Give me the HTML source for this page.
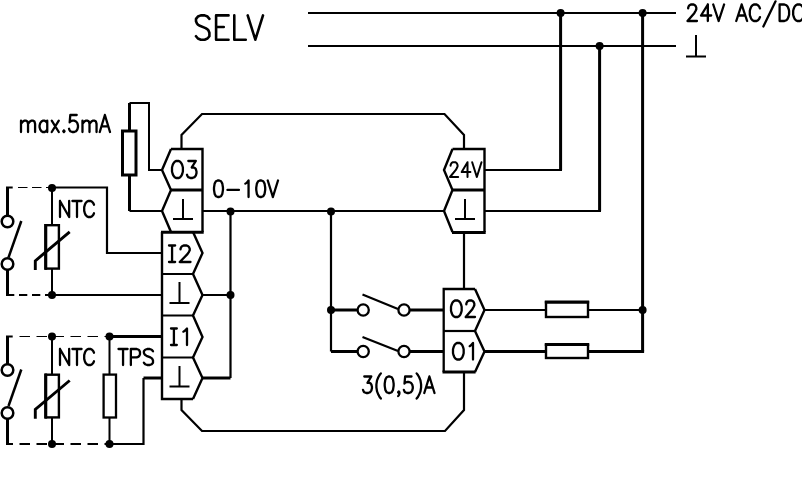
<!DOCTYPE html>
<html><head><meta charset="utf-8"><title>SELV wiring diagram</title>
<style>
html,body{margin:0;padding:0;background:#fff;font-family:"Liberation Sans",sans-serif;}
svg{display:block}
</style></head>
<body>
<svg width="802" height="501" viewBox="0 0 802 501">
<rect x="0" y="0" width="802" height="501" fill="#fff"/>
<g fill="none" stroke="#000" stroke-linecap="butt" stroke-linejoin="miter">
<path d="M308 13H676 M308 46H676" stroke-width="2"/>
<path d="M560.6 13V170 M599.6 46V211 M642.6 13V351.5" stroke-width="3"/>
<path d="M484.5 170H562 M484.5 211H601" stroke-width="2"/>
<circle cx="560.6" cy="13" r="4.0" fill="#000" stroke="none"/>
<circle cx="599.6" cy="46" r="4.0" fill="#000" stroke="none"/>
<circle cx="642.6" cy="13" r="4.0" fill="#000" stroke="none"/>
<circle cx="642.6" cy="310" r="4.0" fill="#000" stroke="none"/>
<path d="M181.5 149V135L202 114H444.5L464 135V149" stroke-width="2.2"/>
<path d="M181.5 399V410L202 431H445L464 410V372" stroke-width="2.2"/>
<path d="M171 149H202.5V232 M171 149L162 170L171 190L162 211L171 232" stroke-width="2.4"/>
<path d="M171 190H202.5" stroke-width="3"/>
<path d="M161 232.3H203.7" stroke-width="3"/>
<path d="M162 232V399H193" stroke-width="2.4"/>
<path d="M193 232L202.5 253L193 274L202.5 295L193 315.5L202.5 337L193 357.5L202.5 378L193 399" stroke-width="2.4"/>
<path d="M162 274H193 M162 315.5H193 M162 357.5H193" stroke-width="2.2"/>
<path d="M452.5 149H484.5V232 M452.5 149L444 170L452.5 190L444 211L452.5 232" stroke-width="2.4"/>
<path d="M452.5 190H484.5" stroke-width="3"/>
<path d="M452 232.4H485.7" stroke-width="3"/>
<path d="M464 232V289" stroke-width="2.2"/>
<path d="M475 289H443.7V372" stroke-width="2.3"/>
<path d="M442.5 372H475.6" stroke-width="3"/>
<path d="M475 289L484.5 310L475 331L484.5 351.5L475 372" stroke-width="2.4"/>
<path d="M443.5 331H475" stroke-width="2.2"/>
<path d="M129.5 103V131 M129.5 175V211" stroke-width="3"/>
<path d="M129.5 103H149V170H162 M129.5 211H162" stroke-width="2"/>
<rect x="122.5" y="131" width="13.5" height="44" fill="#fff" stroke-width="3"/>
<path d="M203 211H444" stroke-width="2"/>
<path d="M230.5 211V378 M331 211V351.5" stroke-width="2.2"/>
<path d="M202.5 295H230.5" stroke-width="2"/>
<path d="M202.5 378H230.5" stroke-width="3"/>
<circle cx="230.5" cy="211.5" r="4.0" fill="#000" stroke="none"/>
<circle cx="331" cy="211.5" r="4.0" fill="#000" stroke="none"/>
<circle cx="230.5" cy="295" r="4.0" fill="#000" stroke="none"/>
<circle cx="331" cy="310" r="4.0" fill="#000" stroke="none"/>
<path d="M331 310H358 M410 310H443.5 M331 351.5H358 M410 351.5H443.5" stroke-width="3"/>
<path d="M362.5 294.5L398 309 M362.5 337L398 351" stroke-width="2.2"/>
<circle cx="363.2" cy="310" r="5.6" fill="#fff" stroke-width="2.3"/>
<circle cx="404" cy="310" r="5.6" fill="#fff" stroke-width="2.3"/>
<circle cx="363.2" cy="351.5" r="5.6" fill="#fff" stroke-width="2.3"/>
<circle cx="404" cy="351.5" r="5.6" fill="#fff" stroke-width="2.3"/>
<path d="M484.5 310H545.5 M589 310H642.6" stroke-width="2"/>
<path d="M484.5 351.5H545.5 M588 351.5H644.1" stroke-width="3"/>
<rect x="546" y="302.3" width="42" height="14.699999999999989" fill="#fff" stroke-width="2.4"/>
<path d="M544.8 302H589.2" stroke-width="3"/>
<rect x="546" y="344.8" width="42" height="13.199999999999989" fill="#fff" stroke-width="2.4"/>
<path d="M544.8 344.5H589.2" stroke-width="3"/>
<path d="M52 187.5H107V253H162" stroke-width="2.2"/>
<path d="M52 295H162" stroke-width="2.2"/>
<path d="M52 188V295" stroke-width="2"/>
<rect x="46" y="225.2" width="12.899999999999999" height="43.400000000000034" fill="#fff" stroke-width="2.4"/>
<path d="M45.6 224V269.8" stroke-width="3"/>
<path d="M69.7 231.8L35.3 260.8V270" stroke-width="2.9"/>
<path d="M7.5 187.5V216 M7.5 270V295" stroke-width="3"/>
<path d="M6 187.5H12.7" stroke-width="2"/>
<path d="M18 187.5H51" stroke-width="1.1" stroke-dasharray="9.5 4.5"/>
<path d="M6 295H51" stroke-width="2.2" stroke-dasharray="8.3 4.7"/>
<path d="M21.3 221L8.5 257.5" stroke-width="2.5"/>
<circle cx="7.5" cy="221.5" r="5.8" fill="#fff" stroke-width="2.5"/>
<circle cx="7.5" cy="264" r="5.8" fill="#fff" stroke-width="2.5"/>
<circle cx="52" cy="188" r="4.0" fill="#000" stroke="none"/>
<circle cx="52" cy="295" r="4.0" fill="#000" stroke="none"/>
<path d="M52 336.5V444 M109.5 336.5V444" stroke-width="2"/>
<rect x="46" y="374.7" width="12.899999999999999" height="42.69999999999999" fill="#fff" stroke-width="2.4"/>
<path d="M45.6 373.5V418.6" stroke-width="3"/>
<rect x="103.6" y="374.6" width="12.400000000000006" height="42.89999999999998" fill="#fff" stroke-width="2.3"/>
<path d="M69.7 380.5L35.3 409.5V418.7" stroke-width="2.9"/>
<path d="M7.5 336.5V365 M7.5 419V444" stroke-width="3"/>
<path d="M6 336.5H12.7" stroke-width="2"/>
<path d="M19.5 336.5H109" stroke-width="1.1" stroke-dasharray="10.5 6.5"/>
<path d="M6 444H13 M19.5 444H109" stroke-width="2.2" stroke-dasharray="10.5 6.5"/>
<path d="M21.3 369.5L8.5 406" stroke-width="2.5"/>
<circle cx="7.5" cy="370" r="5.8" fill="#fff" stroke-width="2.5"/>
<circle cx="7.5" cy="413" r="5.8" fill="#fff" stroke-width="2.5"/>
<path d="M109.5 336.5H162" stroke-width="3"/>
<path d="M109.5 444H143.5V378" stroke-width="2.2"/>
<path d="M143.5 378H162" stroke-width="3"/>
<circle cx="52" cy="336.5" r="4.0" fill="#000" stroke="none"/>
<circle cx="109.5" cy="336.5" r="4.0" fill="#000" stroke="none"/>
<circle cx="52" cy="444" r="4.0" fill="#000" stroke="none"/>
<circle cx="109.5" cy="444" r="4.0" fill="#000" stroke="none"/>
<path d="M183 199V219 M173 219H193" stroke-width="2"/>
<path d="M179.5 282V303 M169.5 303H189.5" stroke-width="2"/>
<path d="M179.5 366V386.5 M169.5 386.5H189.5" stroke-width="2"/>
<path d="M465 199V219 M455 219H475" stroke-width="2"/>
<path d="M696 35V56.5 M686 56.5H706" stroke-width="2"/>
</g>
<g fill="none" stroke="#000" stroke-linecap="round" stroke-linejoin="round">
<path d="M209.40 18.87 L207.49 16.56 L204.61 15.40 L200.79 15.40 L197.91 16.56 L196.00 18.87 L196.00 21.19 L196.96 23.50 L197.91 24.66 L199.83 25.81 L205.57 28.13 L207.49 29.29 L208.44 30.44 L209.40 32.76 L209.40 36.23 L207.49 38.54 L204.61 39.70 L200.79 39.70 L197.91 38.54 L196.00 36.23 M216.10 15.40 L216.10 39.70 M216.10 15.40 L228.54 15.40 M216.10 26.97 L223.76 26.97 M216.10 39.70 L228.54 39.70 M234.29 15.40 L234.29 39.70 M234.29 39.70 L245.77 39.70 M247.69 15.40 L255.34 39.70 M263.00 15.40 L255.34 39.70" stroke-width="2.60"/>
<path d="M688.18 8.43 L688.18 7.64 L688.85 6.07 L689.53 5.29 L690.89 4.50 L693.60 4.50 L694.95 5.29 L695.63 6.07 L696.30 7.64 L696.30 9.21 L695.63 10.79 L694.27 13.14 L687.50 21.00 L696.98 21.00 M707.82 4.50 L701.05 15.50 L711.21 15.50 M707.82 4.50 L707.82 21.00 M713.24 4.50 L718.66 21.00 M724.07 4.50 L718.66 21.00 M741.68 4.50 L736.26 21.00 M741.68 4.50 L747.10 21.00 M738.30 15.50 L745.07 15.50 M759.97 8.43 L759.29 6.86 L757.94 5.29 L756.58 4.50 L753.87 4.50 L752.52 5.29 L751.16 6.86 L750.49 8.43 L749.81 10.79 L749.81 14.71 L750.49 17.07 L751.16 18.64 L752.52 20.21 L753.87 21.00 L756.58 21.00 L757.94 20.21 L759.29 18.64 L759.97 17.07 M775.55 1.36 L763.36 26.50 M779.61 4.50 L779.61 21.00 M779.61 4.50 L784.35 4.50 L786.38 5.29 L787.74 6.86 L788.42 8.43 L789.09 10.79 L789.09 14.71 L788.42 17.07 L787.74 18.64 L786.38 20.21 L784.35 21.00 L779.61 21.00 M803.32 8.43 L802.64 6.86 L801.28 5.29 L799.93 4.50 L797.22 4.50 L795.87 5.29 L794.51 6.86 L793.83 8.43 L793.16 10.79 L793.16 14.71 L793.83 17.07 L794.51 18.64 L795.87 20.21 L797.22 21.00 L799.93 21.00 L801.28 20.21 L802.64 18.64 L803.32 17.07" stroke-width="2.30"/>
<path d="M21.00 120.67 L21.00 132.00 M21.00 123.90 L22.92 121.48 L24.20 120.67 L26.12 120.67 L27.40 121.48 L28.04 123.90 L28.04 132.00 M28.04 123.90 L29.96 121.48 L31.24 120.67 L33.17 120.67 L34.45 121.48 L35.09 123.90 L35.09 132.00 M47.25 120.67 L47.25 132.00 M47.25 123.10 L45.97 121.48 L44.69 120.67 L42.77 120.67 L41.49 121.48 L40.21 123.10 L39.57 125.52 L39.57 127.14 L40.21 129.57 L41.49 131.19 L42.77 132.00 L44.69 132.00 L45.97 131.19 L47.25 129.57 M51.73 120.67 L58.78 132.00 M58.78 120.67 L51.73 132.00 M63.90 130.38 L63.26 131.19 L63.90 132.00 L64.54 131.19 L63.90 130.38 M76.71 115.00 L70.30 115.00 L69.66 122.29 L70.30 121.48 L72.22 120.67 L74.14 120.67 L76.06 121.48 L77.35 123.10 L77.99 125.52 L77.99 127.14 L77.35 129.57 L76.06 131.19 L74.14 132.00 L72.22 132.00 L70.30 131.19 L69.66 130.38 L69.02 128.76 M82.47 120.67 L82.47 132.00 M82.47 123.90 L84.39 121.48 L85.67 120.67 L87.59 120.67 L88.87 121.48 L89.51 123.90 L89.51 132.00 M89.51 123.90 L91.43 121.48 L92.71 120.67 L94.63 120.67 L95.91 121.48 L96.55 123.90 L96.55 132.00 M104.88 115.00 L99.76 132.00 M104.88 115.00 L110.00 132.00 M101.68 126.33 L108.08 126.33" stroke-width="2.30"/>
<path d="M217.84 180.50 L215.92 181.29 L214.64 183.64 L214.00 187.57 L214.00 189.93 L214.64 193.86 L215.92 196.21 L217.84 197.00 L219.12 197.00 L221.04 196.21 L222.32 193.86 L222.96 189.93 L222.96 187.57 L222.32 183.64 L221.04 181.29 L219.12 180.50 L217.84 180.50 M227.44 189.93 L238.96 189.93 M245.36 183.64 L246.64 182.86 L248.56 180.50 L248.56 197.00 M260.08 180.50 L258.16 181.29 L256.88 183.64 L256.24 187.57 L256.24 189.93 L256.88 193.86 L258.16 196.21 L260.08 197.00 L261.36 197.00 L263.28 196.21 L264.56 193.86 L265.20 189.93 L265.20 187.57 L264.56 183.64 L263.28 181.29 L261.36 180.50 L260.08 180.50 M267.76 180.50 L272.88 197.00 M278.00 180.50 L272.88 197.00" stroke-width="2.30"/>
<path d="M60.00 201.00 L60.00 217.00 M60.00 201.00 L69.15 217.00 M69.15 201.00 L69.15 217.00 M77.00 201.00 L77.00 217.00 M72.42 201.00 L81.58 201.00 M94.00 204.81 L93.35 203.29 L92.04 201.76 L90.73 201.00 L88.12 201.00 L86.81 201.76 L85.50 203.29 L84.85 204.81 L84.19 207.10 L84.19 210.90 L84.85 213.19 L85.50 214.71 L86.81 216.24 L88.12 217.00 L90.73 217.00 L92.04 216.24 L93.35 214.71 L94.00 213.19" stroke-width="2.30"/>
<path d="M60.00 349.00 L60.00 365.00 M60.00 349.00 L69.15 365.00 M69.15 349.00 L69.15 365.00 M77.00 349.00 L77.00 365.00 M72.42 349.00 L81.58 349.00 M94.00 352.81 L93.35 351.29 L92.04 349.76 L90.73 349.00 L88.12 349.00 L86.81 349.76 L85.50 351.29 L84.85 352.81 L84.19 355.10 L84.19 358.90 L84.85 361.19 L85.50 362.71 L86.81 364.24 L88.12 365.00 L90.73 365.00 L92.04 364.24 L93.35 362.71 L94.00 361.19" stroke-width="2.30"/>
<path d="M123.06 349.00 L123.06 365.00 M118.50 349.00 L127.61 349.00 M130.87 349.00 L130.87 365.00 M130.87 349.00 L136.73 349.00 L138.68 349.76 L139.33 350.52 L139.98 352.05 L139.98 354.33 L139.33 355.86 L138.68 356.62 L136.73 357.38 L130.87 357.38 M153.00 351.29 L151.70 349.76 L149.75 349.00 L147.14 349.00 L145.19 349.76 L143.89 351.29 L143.89 352.81 L144.54 354.33 L145.19 355.10 L146.49 355.86 L150.40 357.38 L151.70 358.14 L152.35 358.90 L153.00 360.43 L153.00 362.71 L151.70 364.24 L149.75 365.00 L147.14 365.00 L145.19 364.24 L143.89 362.71" stroke-width="2.30"/>
<path d="M364.28 376.50 L371.30 376.50 L367.47 382.79 L369.38 382.79 L370.66 383.57 L371.30 384.36 L371.94 386.71 L371.94 388.29 L371.30 390.64 L370.02 392.21 L368.11 393.00 L366.19 393.00 L364.28 392.21 L363.64 391.43 L363.00 389.86 M380.88 373.36 L379.60 374.93 L378.32 377.29 L377.04 380.43 L376.41 384.36 L376.41 387.50 L377.04 391.43 L378.32 394.57 L379.60 396.93 L380.88 398.50 M388.54 376.50 L386.62 377.29 L385.34 379.64 L384.71 383.57 L384.71 385.93 L385.34 389.86 L386.62 392.21 L388.54 393.00 L389.81 393.00 L391.73 392.21 L393.00 389.86 L393.64 385.93 L393.64 383.57 L393.00 379.64 L391.73 377.29 L389.81 376.50 L388.54 376.50 M399.39 392.21 L398.75 393.00 L398.11 392.21 L398.75 391.43 L399.39 392.21 L399.39 393.79 L398.75 395.36 L398.11 396.14 M411.52 376.50 L405.13 376.50 L404.50 383.57 L405.13 382.79 L407.05 382.00 L408.96 382.00 L410.88 382.79 L412.16 384.36 L412.79 386.71 L412.79 388.29 L412.16 390.64 L410.88 392.21 L408.96 393.00 L407.05 393.00 L405.13 392.21 L404.50 391.43 L403.86 389.86 M416.62 373.36 L417.90 374.93 L419.18 377.29 L420.46 380.43 L421.09 384.36 L421.09 387.50 L420.46 391.43 L419.18 394.57 L417.90 396.93 L416.62 398.50 M429.39 376.50 L424.29 393.00 M429.39 376.50 L434.50 393.00 M426.20 387.50 L432.58 387.50" stroke-width="2.30"/>
<path d="M176.08 161.00 L174.72 161.81 L173.36 163.43 L172.68 165.05 L172.00 167.48 L172.00 171.52 L172.68 173.95 L173.36 175.57 L174.72 177.19 L176.08 178.00 L178.81 178.00 L180.17 177.19 L181.53 175.57 L182.21 173.95 L182.89 171.52 L182.89 167.48 L182.21 165.05 L181.53 163.43 L180.17 161.81 L178.81 161.00 L176.08 161.00 M188.33 161.00 L195.82 161.00 L191.74 167.48 L193.78 167.48 L195.14 168.29 L195.82 169.10 L196.50 171.52 L196.50 173.14 L195.82 175.57 L194.46 177.19 L192.42 178.00 L190.38 178.00 L188.33 177.19 L187.65 176.38 L186.97 174.76" stroke-width="2.30"/>
<path d="M172.07 245.50 L172.07 262.00 M169.00 245.50 L175.14 245.50 M169.00 262.00 L175.14 262.00 M180.52 249.43 L180.52 248.64 L181.29 247.07 L182.05 246.29 L183.59 245.50 L186.66 245.50 L188.20 246.29 L188.96 247.07 L189.73 248.64 L189.73 250.21 L188.96 251.79 L187.43 254.14 L179.75 262.00 L190.50 262.00" stroke-width="2.30"/>
<path d="M173.91 328.50 L173.91 345.00 M171.00 328.50 L176.82 328.50 M171.00 345.00 L176.82 345.00 M183.36 331.64 L184.82 330.86 L187.00 328.50 L187.00 345.00" stroke-width="2.30"/>
<path d="M450.58 165.72 L450.58 165.02 L451.17 163.61 L451.75 162.90 L452.92 162.20 L455.25 162.20 L456.42 162.90 L457.00 163.61 L457.58 165.02 L457.58 166.43 L457.00 167.84 L455.83 169.95 L450.00 177.00 L458.17 177.00 M467.50 162.20 L461.67 172.07 L470.42 172.07 M467.50 162.20 L467.50 177.00 M472.17 162.20 L476.83 177.00 M481.50 162.20 L476.83 177.00" stroke-width="2.00"/>
<path d="M455.00 300.50 L453.67 301.29 L452.33 302.86 L451.67 304.43 L451.00 306.79 L451.00 310.71 L451.67 313.07 L452.33 314.64 L453.67 316.21 L455.00 317.00 L457.67 317.00 L459.00 316.21 L460.33 314.64 L461.00 313.07 L461.67 310.71 L461.67 306.79 L461.00 304.43 L460.33 302.86 L459.00 301.29 L457.67 300.50 L455.00 300.50 M466.33 304.43 L466.33 303.64 L467.00 302.07 L467.67 301.29 L469.00 300.50 L471.67 300.50 L473.00 301.29 L473.67 302.07 L474.33 303.64 L474.33 305.21 L473.67 306.79 L472.33 309.14 L465.67 317.00 L475.00 317.00" stroke-width="2.30"/>
<path d="M457.00 343.00 L455.67 343.79 L454.33 345.36 L453.67 346.93 L453.00 349.29 L453.00 353.21 L453.67 355.57 L454.33 357.14 L455.67 358.71 L457.00 359.50 L459.67 359.50 L461.00 358.71 L462.33 357.14 L463.00 355.57 L463.67 353.21 L463.67 349.29 L463.00 346.93 L462.33 345.36 L461.00 343.79 L459.67 343.00 L457.00 343.00 M469.67 346.14 L471.00 345.36 L473.00 343.00 L473.00 359.50" stroke-width="2.30"/>
</g>
</svg>
</body></html>
